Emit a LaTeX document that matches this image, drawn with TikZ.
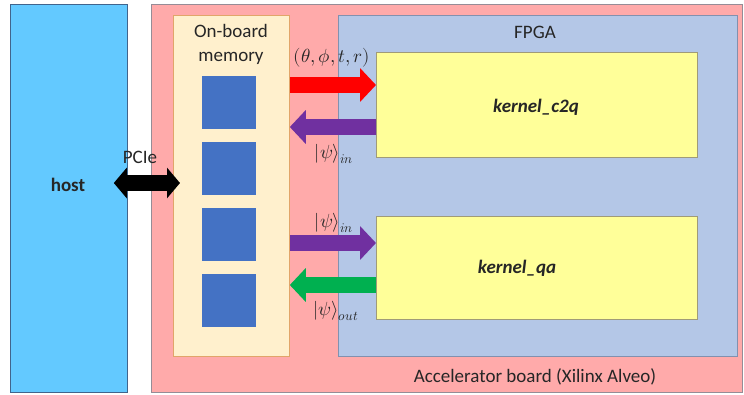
\documentclass[tikz,border=0pt]{standalone}
\usepackage{fontspec}
\usepackage{unicode-math}
\setmainfont{Carlito}
\setmathfont{Latin Modern Math}
\usetikzlibrary{arrows.meta,positioning}

\definecolor{hostblue}{RGB}{99,201,255}
\definecolor{hostline}{RGB}{65,100,140}
\definecolor{boardpink}{RGB}{255,170,170}
\definecolor{boardline}{RGB}{150,140,150}
\definecolor{memcream}{RGB}{255,240,205}
\definecolor{memline}{RGB}{225,165,105}
\definecolor{fpgablue}{RGB}{180,199,231}
\definecolor{fpgaline}{RGB}{130,145,175}
\definecolor{kernyellow}{RGB}{255,255,153}
\definecolor{kernline}{RGB}{160,155,120}
\definecolor{cellblue}{RGB}{68,114,196}
\definecolor{arrred}{RGB}{255,0,0}
\definecolor{arrpurple}{RGB}{112,48,160}
\definecolor{arrgreen}{RGB}{0,176,80}

\tikzset{
  block/.style={draw, line width=0.8pt, inner sep=0pt, anchor=north west},
  cell/.style={fill=cellblue, minimum width=54pt, minimum height=53pt, inner sep=0pt, anchor=north west},
  fat/.style={line width=16pt, -{Triangle[length=16pt,width=33pt]}},
  lbl/.style={font=\fontsize{19}{24}\selectfont, inner sep=0pt, text=black!85},
}

\begin{document}
\begin{tikzpicture}[x=1pt,y=-1pt]
    \useasboundingbox (0,0) rectangle (744,394);

    % host and board
    \node[block, fill=hostblue, draw=hostline, minimum width=117pt, minimum height=388pt] (host) at (10,4) {};
    \node[block, fill=boardpink, draw=boardline, minimum width=591pt, minimum height=388pt] (board) at (151,4) {};

    % on-board memory with its cells
    \node[block, fill=memcream, draw=memline, minimum width=116pt, minimum height=341pt] (mem) at (173,15) {};
    \foreach \i in {1,...,4} {
        \node[cell] (cell\i) at (202,10+66*\i) {};
    }

    % FPGA and kernels
    \node[block, fill=fpgablue, draw=fpgaline, minimum width=399pt, minimum height=341pt] (fpga) at (338,15) {};
    \node[block, fill=kernyellow, draw=kernline, minimum width=321pt, minimum height=105pt] (c2q) at (376,52) {};
    \node[block, fill=kernyellow, draw=kernline, minimum width=321pt, minimum height=103pt] (qa) at (376,216) {};

    % texts
    \node[lbl, font=\fontsize{19}{24}\selectfont\bfseries] (hosttxt) at (68,185) {host};
    \node[lbl] (pcietxt) at (140,157) {PCIe};
    \node[lbl, align=center] (memtxt) at (231,44) {On-board\\memory};
    \node[lbl] (fpgatxt) at (535,32) {FPGA};
    \node[lbl, font=\fontsize{19}{24}\selectfont\bfseries\itshape] (c2qtxt) at (536,107) {kernel\_c2q};
    \node[lbl, font=\fontsize{19}{24}\selectfont\bfseries\itshape] (qatxt) at (517,268) {kernel\_qa};
    \node[lbl] (boardtxt) at (535,377) {Accelerator board (Xilinx Alveo)};
    \node[lbl] (paramtxt) at (332,58) {$(\theta,\phi,t,r)$};
    \node[lbl] (psiin1) at (334,154) {$|\psi\rangle_{in}$};
    \node[lbl] (psiin2) at (334,223) {$|\psi\rangle_{in}$};
    \node[lbl] (psiout) at (336,311) {$|\psi\rangle_{out}$};

    % data movement
    \draw[fat, arrred] (mem.east |- 0,85) -- (c2q.west |- 0,85);
    \draw[fat, arrpurple] (c2q.west |- 0,127) -- (mem.east |- 0,127);
    \draw[fat, arrpurple] (mem.east |- 0,243) -- (qa.west |- 0,243);
    \draw[fat, arrgreen] (qa.west |- 0,285) -- (mem.east |- 0,285);
    \draw[line width=16pt, {Triangle[length=13pt,width=30pt]}-{Triangle[length=13pt,width=30pt]}]
        ([xshift=-14pt]host.east |- 0,183) -- ([xshift=7pt]mem.west |- 0,183);

\end{tikzpicture}
\end{document}
